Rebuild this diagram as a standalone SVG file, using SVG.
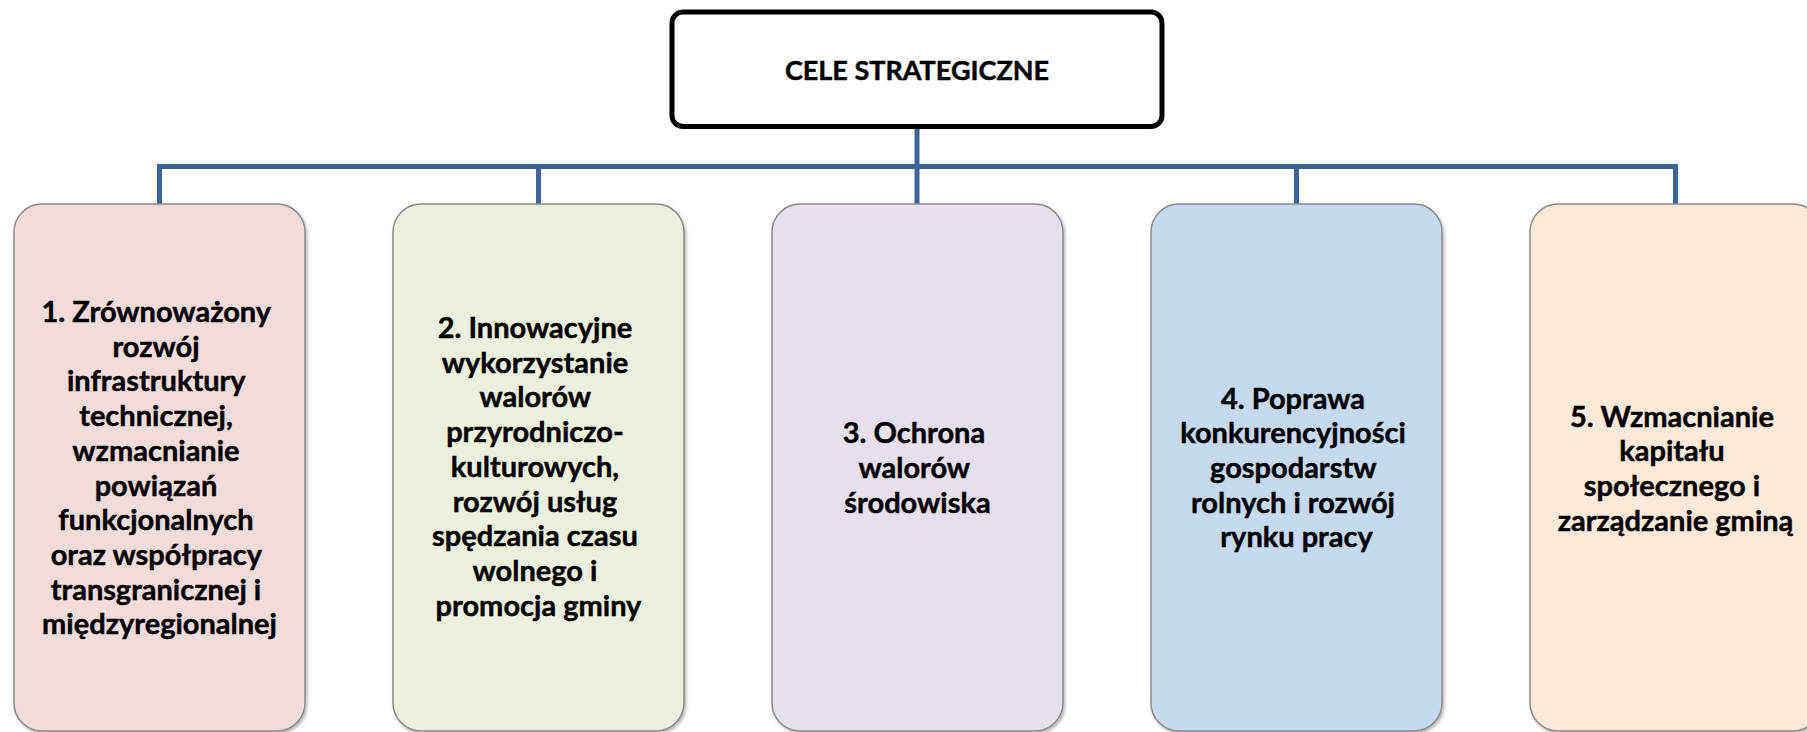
<svg xmlns="http://www.w3.org/2000/svg" width="1807" height="732" viewBox="0 0 1807 732">
<style>
.t{font-family:Lato,"Liberation Sans",sans-serif;font-weight:bold;font-size:29px;fill:#000;stroke:#000;stroke-width:0.45px;text-anchor:middle}
.h{font-size:27px}
.box{stroke:#8a8a8a;stroke-width:1.5}
.conn{fill:none;stroke:#3E6497;stroke-width:5;stroke-linejoin:miter}
</style>
<defs>
<filter id="sh" x="-5%" y="-5%" width="115%" height="115%">
<feDropShadow dx="1.5" dy="2" stdDeviation="1.5" flood-color="#000" flood-opacity="0.3"/>
</filter>
</defs>
<rect width="1807" height="732" fill="#fff"/>
<g id="connectors">
<path class="conn" d="M917,127 V166.5"/>
<path class="conn" d="M159.5,204 V166.5 H1675.5 V204"/>
<path class="conn" d="M538.5,166.5 V204"/>
<path class="conn" d="M917,166.5 V204"/>
<path class="conn" d="M1296.5,166.5 V204"/>
</g>
<g id="root">
<rect x="672" y="12" width="490" height="114.5" rx="11" fill="#fff" stroke="#000" stroke-width="5"/>
<text class="t h" x="917" y="80">CELE STRATEGICZNE</text>
</g>
<g id="goal1">
<rect class="box" x="14" y="204" width="291" height="527" rx="28" fill="#F2DCDB" filter="url(#sh)"/>
<text class="t">
<tspan x="159.5" y="322">1. Zrównoważony</tspan>
<tspan x="159.5" y="356.7">rozwój</tspan>
<tspan x="159.5" y="391.4">infrastruktury</tspan>
<tspan x="159.5" y="426.1">technicznej,</tspan>
<tspan x="159.5" y="460.8">wzmacnianie</tspan>
<tspan x="159.5" y="495.5">powiązań</tspan>
<tspan x="159.5" y="530.2">funkcjonalnych</tspan>
<tspan x="159.5" y="564.9">oraz współpracy</tspan>
<tspan x="159.5" y="599.6">transgranicznej i</tspan>
<tspan x="159.5" y="634.3">międzyregionalnej</tspan>
</text>
</g>
<g id="goal2">
<rect class="box" x="393" y="204" width="291" height="527" rx="28" fill="#EBF1DE" filter="url(#sh)"/>
<text class="t">
<tspan x="538.5" y="338">2. Innowacyjne</tspan>
<tspan x="538.5" y="372.7">wykorzystanie</tspan>
<tspan x="538.5" y="407.4">walorów</tspan>
<tspan x="538.5" y="442.1">przyrodniczo-</tspan>
<tspan x="538.5" y="476.8">kulturowych,</tspan>
<tspan x="538.5" y="511.5">rozwój usług</tspan>
<tspan x="538.5" y="546.2">spędzania czasu</tspan>
<tspan x="538.5" y="580.9">wolnego i</tspan>
<tspan x="538.5" y="615.6">promocja gminy</tspan>
</text>
</g>
<g id="goal3">
<rect class="box" x="772" y="204" width="291" height="527" rx="28" fill="#E5E0EC" filter="url(#sh)"/>
<text class="t">
<tspan x="917.5" y="443.3">3. Ochrona</tspan>
<tspan x="917.5" y="478">walorów</tspan>
<tspan x="917.5" y="512.7">środowiska</tspan>
</text>
</g>
<g id="goal4">
<rect class="box" x="1151" y="204" width="291" height="527" rx="28" fill="#C6D9F1" filter="url(#sh)"/>
<text class="t">
<tspan x="1296.5" y="408.6">4. Poprawa</tspan>
<tspan x="1296.5" y="443.3">konkurencyjności</tspan>
<tspan x="1296.5" y="478">gospodarstw</tspan>
<tspan x="1296.5" y="512.7">rolnych i rozwój</tspan>
<tspan x="1296.5" y="547.4">rynku pracy</tspan>
</text>
</g>
<g id="goal5">
<rect class="box" x="1530" y="204" width="291" height="527" rx="28" fill="#FDE9D9" filter="url(#sh)"/>
<text class="t">
<tspan x="1675.5" y="426.7">5. Wzmacnianie</tspan>
<tspan x="1675.5" y="461.4">kapitału</tspan>
<tspan x="1675.5" y="496.1">społecznego i</tspan>
<tspan x="1675.5" y="530.8">zarządzanie gminą</tspan>
</text>
</g>
</svg>
